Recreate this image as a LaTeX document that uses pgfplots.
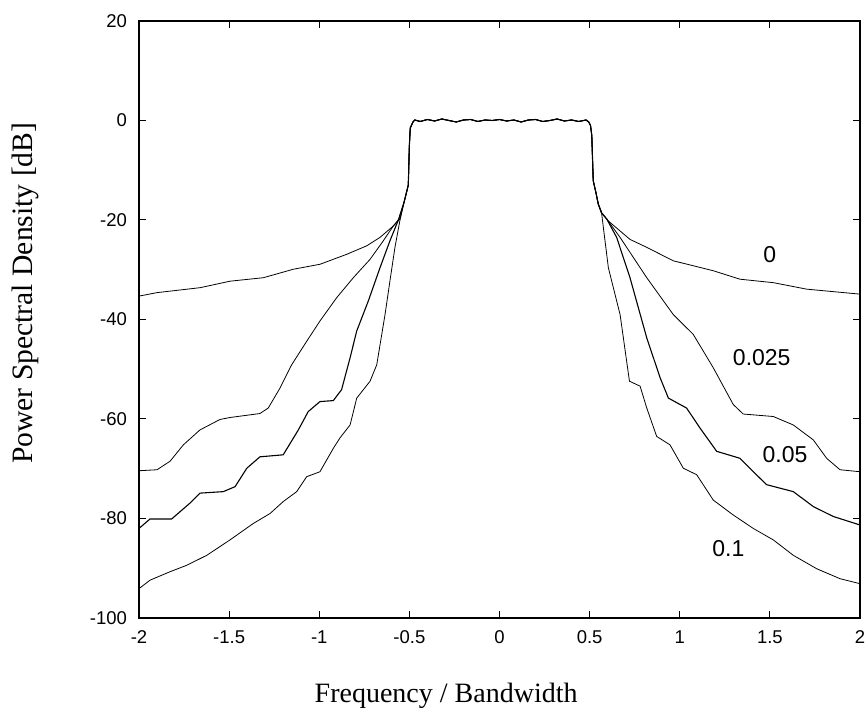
\documentclass[border=0pt]{standalone}
\usepackage{fontspec}
\setmainfont{Liberation Serif}
\newfontfamily\arial{Liberation Sans}
\usepackage{pgfplots}
\pgfplotsset{compat=1.18}
\usepackage{pgfplotstable}

\pgfplotstableread{
x y
-2.000 -35.3
-1.900 -34.6
-1.660 -33.6
-1.495 -32.3
-1.310 -31.6
-1.144 -29.9
-0.996 -28.9
-0.848 -26.9
-0.737 -25.2
-0.663 -23.5
-0.589 -21.2
-0.552 -19.8
-0.530 -16.5
-0.506 -13.0
-0.500 -5.0
-0.495 -1.5
-0.480 -0.3
-0.470 0.1
-0.440 -0.2
-0.400 0.2
-0.360 -0.1
-0.320 0.3
-0.280 0.0
-0.240 -0.3
-0.200 0.1
-0.160 0.2
-0.120 -0.2
-0.080 0.1
-0.040 0.0
0.000 0.2
0.040 -0.1
0.080 0.1
0.120 -0.3
0.160 0.1
0.200 0.2
0.240 -0.2
0.280 0.0
0.320 0.3
0.360 -0.1
0.400 0.1
0.440 -0.2
0.480 0.1
0.495 -0.3
0.505 -1.0
0.512 -3.0
0.520 -12.1
0.535 -14.5
0.548 -16.8
0.567 -18.6
0.604 -20.2
0.724 -23.9
0.817 -25.5
0.964 -28.2
1.186 -30.2
1.334 -31.9
1.520 -32.6
1.704 -33.9
2.000 -34.9
}\curveA

\pgfplotstableread{
x y
-2.000 -70.4
-1.900 -70.2
-1.828 -68.5
-1.754 -65.2
-1.662 -62.2
-1.551 -60.1
-1.495 -59.7
-1.329 -58.9
-1.283 -57.8
-1.218 -53.8
-1.153 -49.1
-1.070 -44.4
-0.996 -40.3
-0.903 -35.6
-0.811 -31.6
-0.718 -27.9
-0.645 -24.2
-0.589 -21.2
-0.558 -19.8
-0.530 -16.5
-0.506 -13.0
-0.500 -5.0
-0.495 -1.5
-0.480 -0.3
-0.470 0.1
-0.440 -0.2
-0.400 0.2
-0.360 -0.1
-0.320 0.3
-0.280 0.0
-0.240 -0.3
-0.200 0.1
-0.160 0.2
-0.120 -0.2
-0.080 0.1
-0.040 0.0
0.000 0.2
0.040 -0.1
0.080 0.1
0.120 -0.3
0.160 0.1
0.200 0.2
0.240 -0.2
0.280 0.0
0.320 0.3
0.360 -0.1
0.400 0.1
0.440 -0.2
0.480 0.1
0.495 -0.3
0.505 -1.0
0.512 -3.0
0.520 -12.1
0.535 -14.5
0.548 -16.8
0.567 -18.6
0.595 -19.8
0.669 -23.5
0.817 -31.6
0.964 -39.0
1.075 -43.0
1.186 -49.7
1.297 -57.1
1.352 -59.0
1.519 -59.5
1.630 -61.2
1.741 -64.2
1.815 -67.9
1.889 -70.2
2.000 -70.6
}\curveB

\pgfplotstableread{
x y
-2.000 -82.0
-1.939 -80.1
-1.819 -80.1
-1.717 -76.9
-1.662 -74.9
-1.532 -74.6
-1.467 -73.6
-1.402 -69.9
-1.329 -67.6
-1.200 -67.2
-1.116 -62.2
-1.061 -58.5
-0.996 -56.5
-0.922 -56.3
-0.876 -54.1
-0.829 -47.7
-0.792 -42.3
-0.728 -36.3
-0.663 -29.6
-0.608 -24.2
-0.561 -20.0
-0.530 -16.5
-0.506 -13.0
-0.500 -5.0
-0.495 -1.5
-0.480 -0.3
-0.470 0.1
-0.440 -0.2
-0.400 0.2
-0.360 -0.1
-0.320 0.3
-0.280 0.0
-0.240 -0.3
-0.200 0.1
-0.160 0.2
-0.120 -0.2
-0.080 0.1
-0.040 0.0
0.000 0.2
0.040 -0.1
0.080 0.1
0.120 -0.3
0.160 0.1
0.200 0.2
0.240 -0.2
0.280 0.0
0.320 0.3
0.360 -0.1
0.400 0.1
0.440 -0.2
0.480 0.1
0.495 -0.3
0.505 -1.0
0.512 -3.0
0.520 -12.1
0.535 -14.5
0.548 -16.8
0.567 -18.6
0.595 -19.8
0.650 -23.5
0.724 -31.6
0.817 -43.7
0.891 -51.7
0.937 -55.8
1.038 -57.8
1.112 -61.8
1.205 -66.5
1.334 -67.9
1.408 -70.6
1.482 -73.2
1.630 -74.6
1.741 -77.6
1.852 -79.6
2.000 -81.3
}\curveC

\pgfplotstableread{
x y
-2.000 -94.1
-1.939 -92.4
-1.828 -90.7
-1.735 -89.4
-1.624 -87.4
-1.495 -84.3
-1.366 -81.0
-1.273 -79.0
-1.200 -76.6
-1.125 -74.6
-1.070 -71.6
-0.996 -70.6
-0.922 -65.9
-0.885 -63.8
-0.829 -61.2
-0.792 -55.8
-0.718 -52.4
-0.681 -49.1
-0.635 -39.0
-0.608 -32.3
-0.580 -25.5
-0.552 -20.0
-0.530 -16.5
-0.506 -13.0
-0.500 -5.0
-0.495 -1.5
-0.480 -0.3
-0.470 0.1
-0.440 -0.2
-0.400 0.2
-0.360 -0.1
-0.320 0.3
-0.280 0.0
-0.240 -0.3
-0.200 0.1
-0.160 0.2
-0.120 -0.2
-0.080 0.1
-0.040 0.0
0.000 0.2
0.040 -0.1
0.080 0.1
0.120 -0.3
0.160 0.1
0.200 0.2
0.240 -0.2
0.280 0.0
0.320 0.3
0.360 -0.1
0.400 0.1
0.440 -0.2
0.480 0.1
0.495 -0.3
0.505 -1.0
0.512 -3.0
0.520 -12.1
0.535 -14.5
0.548 -16.8
0.567 -18.8
0.604 -29.6
0.669 -39.0
0.721 -52.4
0.780 -53.4
0.817 -57.8
0.872 -63.5
0.946 -65.2
1.020 -69.9
1.094 -71.2
1.186 -76.3
1.297 -79.3
1.408 -82.0
1.519 -84.3
1.630 -87.4
1.760 -90.1
1.889 -92.1
2.000 -93.1
}\curveD

\begin{document}
\begin{tikzpicture}
\begin{axis}[
  width=360.5bp, height=298.5bp, scale only axis,
  xmin=-2, xmax=2, ymin=-100, ymax=20,
  xtick={-2,-1.5,-1,-0.5,0,0.5,1,1.5,2},
  ytick={-100,-80,-60,-40,-20,0,20},
  tick align=inside,
  major tick length=3.5bp,
  axis line style={black, line width=0.6bp},
  every tick/.style={black, line width=0.5bp},
  /pgf/number format/assume math mode=true,
  ticklabel style={font=\arial\fontsize{9.25bp}{11bp}\selectfont},
  xticklabel style={yshift=-3bp},
  yticklabel style={xshift=-2.5bp},
  xlabel={Frequency / Bandwidth},
  ylabel={Power Spectral Density [dB]},
  xlabel style={font=\fontsize{14bp}{16bp}\selectfont, at={(axis description cs:0.426,-0.1407)}, anchor=base},
  ylabel style={font=\fontsize{14.8bp}{16bp}\selectfont, at={(axis description cs:-0.158,0.544)}, anchor=center},
  cycle list={{black, no markers, line width=0.55bp}},
  clip=true,
]
\addplot table[x=x,y=y] {\curveA};
\addplot table[x=x,y=y] {\curveB};
\addplot table[x=x,y=y] {\curveC};
\addplot table[x=x,y=y] {\curveD};
\node[font=\arial\fontsize{11.5bp}{13bp}\selectfont] at (axis cs:1.50,-26.9) {0};
\node[font=\arial\fontsize{11.5bp}{13bp}\selectfont] at (axis cs:1.455,-47.7) {0.025};
\node[font=\arial\fontsize{11.5bp}{13bp}\selectfont] at (axis cs:1.584,-67.2) {0.05};
\node[font=\arial\fontsize{11.5bp}{13bp}\selectfont] at (axis cs:1.27,-86.0) {0.1};
\end{axis}
\pgfresetboundingbox
\path (-69.5bp,-45bp) rectangle (363.5bp,309bp);
\end{tikzpicture}
\end{document}
